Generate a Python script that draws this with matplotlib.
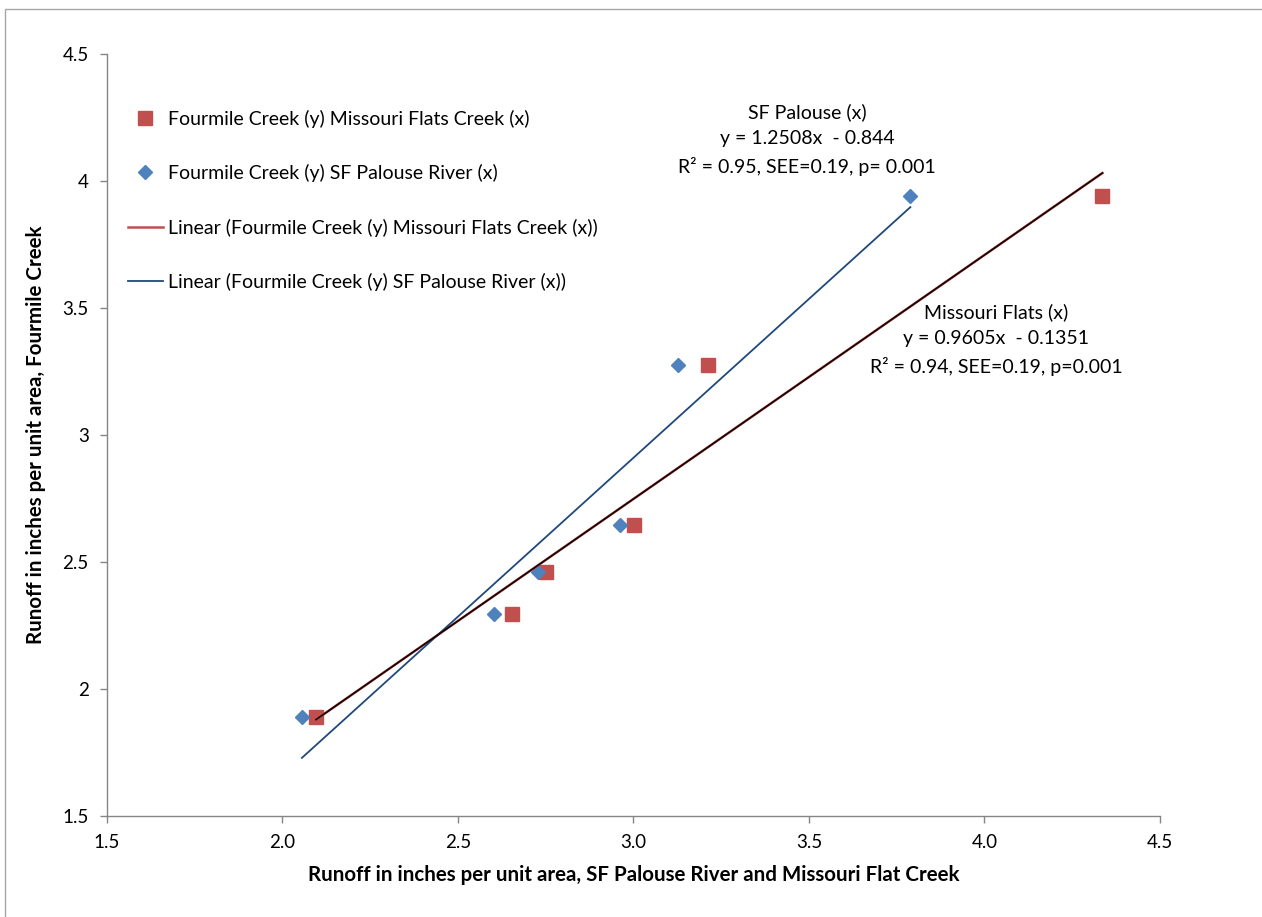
import matplotlib
matplotlib.use("Agg")
import matplotlib.pyplot as plt
from matplotlib.patches import Rectangle
import numpy as np

plt.rcParams['font.family'] = ['Lato', 'DejaVu Sans']

# Data
mf_x = [2.096, 2.655, 2.752, 3.003, 3.213, 4.336]   # Missouri Flats Creek (x)
sf_x = [2.056, 2.603, 2.729, 2.962, 3.128, 3.789]   # SF Palouse River (x)
fc_y = [1.889, 2.294, 2.459, 2.645, 3.274, 3.940]   # Fourmile Creek (y)

mf_slope, mf_int = 0.9605, -0.1351
sf_slope, sf_int = 1.2508, -0.844

x_ticks = [1.5, 2.0, 2.5, 3.0, 3.5, 4.0, 4.5]
y_ticks = [1.5, 2, 2.5, 3, 3.5, 4, 4.5]
x_tick_labels = ["1.5", "2.0", "2.5", "3.0", "3.5", "4.0", "4.5"]
y_tick_labels = ["1.5", "2", "2.5", "3", "3.5", "4", "4.5"]

W, H = 1262, 917
fig = plt.figure(figsize=(W / 100, H / 100), dpi=100)
ax = fig.add_axes([106.7 / W, 1 - 815.7 / H, (1160 - 106.7) / W, (815.7 - 53.5) / H])

# border of chart area
fig.patches.append(Rectangle((5 / W, -0.01), 1.1, 1 - 9 / H + 0.01, transform=fig.transFigure,
                             fill=False, edgecolor='#a6a6a6', linewidth=1.0))

red = '#C0504D'
blue = '#4F81BD'
navy = '#1F497D'

h1, = ax.plot(mf_x, fc_y, linestyle='none', marker='s', ms=9.5, color=red,
              markeredgecolor=red, zorder=3)
h2, = ax.plot(sf_x, fc_y, linestyle='none', marker='D', ms=6.8, color=blue,
              markeredgecolor=blue, zorder=3)

mfx = np.array([min(mf_x), max(mf_x)])
sfx = np.array([min(sf_x), max(sf_x)])
h3, = ax.plot(mfx, mf_slope * mfx + mf_int, color=red, lw=1.8, zorder=4)
ax.plot(mfx, mf_slope * mfx + mf_int, color='#140303', lw=1.2, zorder=5)
h4, = ax.plot(sfx, sf_slope * sfx + sf_int, color=navy, lw=1.3, zorder=4)

ax.set_xlim(1.5, 4.5)
ax.set_ylim(1.5, 4.5)
ax.set_xticks(x_ticks)
ax.set_xticklabels(x_tick_labels)
ax.set_yticks(y_ticks)
ax.set_yticklabels(y_tick_labels)

for s in ['top', 'right']:
    ax.spines[s].set_visible(False)
for s in ['left', 'bottom']:
    ax.spines[s].set_color('#868686')
    ax.spines[s].set_linewidth(1.0)
ax.tick_params(axis='both', direction='out', length=5, width=1.0, color='#868686',
               labelsize=13.5, labelcolor='black')
ax.tick_params(axis='x', pad=8)
ax.tick_params(axis='y', pad=8)

ax.set_xlabel("Runoff in inches per unit area, SF Palouse River and Missouri Flat Creek",
              fontsize=14.8, fontweight='bold', labelpad=10)
ax.set_ylabel("Runoff in inches per unit area, Fourmile Creek",
              fontsize=14.8, fontweight='bold', labelpad=12)

labels = ["Fourmile Creek (y) Missouri Flats Creek (x)",
          "Fourmile Creek (y) SF Palouse River (x)",
          "Linear (Fourmile Creek (y) Missouri Flats Creek (x))",
          "Linear (Fourmile Creek (y) SF Palouse River (x))"]
leg = fig.legend([h1, h2, h3, h4], labels, loc='upper left',
                 bbox_to_anchor=(120 / W, 1 - 102 / H), frameon=False, fontsize=14,
                 labelspacing=1.87, handlelength=1.8, handletextpad=0.28, borderaxespad=0)

fig.text(807 / W, 1 - 103 / H,
         "SF Palouse (x)\ny = 1.2508x  - 0.844\nR\u00b2 = 0.95, SEE=0.19, p= 0.001",
         ha='center', va='top', fontsize=14, linespacing=1.65)
fig.text(996 / W, 1 - 303 / H,
         "Missouri Flats (x)\ny = 0.9605x  - 0.1351\nR\u00b2 = 0.94, SEE=0.19, p=0.001",
         ha='center', va='top', fontsize=14, linespacing=1.65)

fig.savefig("out.png", dpi=100)
